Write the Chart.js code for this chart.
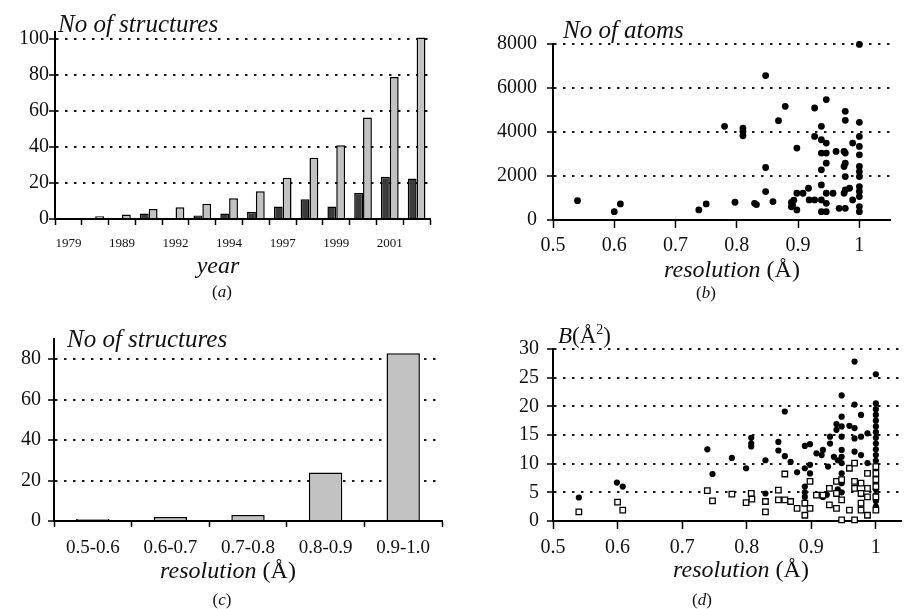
<!DOCTYPE html>
<html>
<head>
<meta charset="utf-8">
<script src="https://cdn.jsdelivr.net/npm/chart.js@4.4.0/dist/chart.umd.min.js"></script>
<style>
  body { margin: 0; background: #fff; }
  #wrap { position: relative; width: 907px; height: 609px; overflow: hidden; font-family: "Liberation Serif", "DejaVu Serif", serif; color: #111; }
  canvas { position: absolute; }
  .t { position: absolute; line-height: 1; white-space: nowrap; }
  .c { transform: translateX(-50%); }
  i { font-style: italic; }
</style>
</head>
<body>
<div id="wrap">
  <canvas id="ca" width="450" height="260" style="left:0;top:0"></canvas>
  <canvas id="cb" width="457" height="260" style="left:450px;top:0"></canvas>
  <canvas id="cc" width="450" height="260" style="left:0;top:300px"></canvas>
  <canvas id="cd" width="457" height="260" style="left:450px;top:300px"></canvas>

  <div class="t" style="left:58px;top:11px;font-size:25px"><i>No of structures</i></div>
  <div class="t c" style="left:218px;top:253px;font-size:24px"><i>year</i></div>
  <div class="t c" style="left:222px;top:283px;font-size:17px">(<i>a</i>)</div>

  <div class="t" style="left:563px;top:17px;font-size:25px"><i>No of atoms</i></div>
  <div class="t c" style="left:732px;top:257px;font-size:24px"><i>resolution</i> (Å)</div>
  <div class="t c" style="left:706px;top:284px;font-size:17px">(<i>b</i>)</div>

  <div class="t" style="left:67px;top:326px;font-size:25px"><i>No of structures</i></div>
  <div class="t c" style="left:228px;top:558px;font-size:24px"><i>resolution</i> (Å)</div>
  <div class="t c" style="left:222px;top:591px;font-size:17px">(<i>c</i>)</div>

  <div class="t" style="left:558px;top:323px;font-size:23px"><i>B</i>(Å<sup style="font-size:14px">2</sup>)</div>
  <div class="t c" style="left:741px;top:557px;font-size:24px"><i>resolution</i> (Å)</div>
  <div class="t c" style="left:702px;top:591px;font-size:17px">(<i>d</i>)</div>
</div>
<script>
// (a) structures per year
const yearLabels = ['1979','1985','1989','1990','1992','1993','1994','1996','1997','1998','1999','2000','2001','2002'];
const yearDark = [0.6, 0.5, 0.5, 3, 0.5, 2, 3, 4, 7, 11, 7, 14.5, 23.5, 22.5];
const yearLight = [0.6, 1.5, 2.5, 5.5, 6.5, 8.5, 11.5, 15.5, 23, 34, 41, 56.5, 79, 101];
const yearTicks = [0, 20, 40, 60, 80, 100];

// (b) number of atoms vs resolution
const atomRes = [0.54, 0.60, 0.61, 0.738, 0.75, 0.78, 0.797, 0.81, 0.81, 0.81, 0.829, 0.832,
  0.847, 0.847, 0.847, 0.859, 0.868, 0.879, 0.889, 0.889, 0.891, 0.893, 0.898, 0.898, 0.898,
  0.908, 0.917, 0.918, 0.927, 0.927, 0.927, 0.938, 0.938, 0.938, 0.938, 0.938, 0.938, 0.938,
  0.946, 0.946, 0.946, 0.946, 0.946, 0.946, 0.946, 0.957, 0.962, 0.967, 0.975, 0.975, 0.975,
  0.977, 0.977, 0.977, 0.977, 0.977, 0.977, 0.977, 0.984, 0.989, 0.989,
  1, 1, 1, 1, 1, 1, 1, 1, 1, 1, 1, 1, 1];
const atomCount = [880, 380, 730, 456, 730, 4256, 806, 4180, 4030, 3830, 760, 700,
  6566, 2386, 1292, 836, 4514, 5168, 600, 800, 684, 900, 3268, 1216, 456,
  1216, 1444, 912, 5092, 3800, 912, 4256, 3648, 3040, 2280, 1596, 912, 380,
  5472, 3496, 3040, 2584, 1216, 760, 380, 1216, 3116, 532, 3116, 2432, 1216,
  4940, 4530, 3040, 2584, 1976, 1368, 532, 1444, 3496, 912,
  7980, 4438, 3800, 3344, 2964, 2432, 1976, 1520, 1064, 608, 380, 2200, 1300];
const atomTicks = [0, 2000, 4000, 6000, 8000];

// (c) structures per resolution bin
const binLabels = ['0.5-0.6', '0.6-0.7', '0.7-0.8', '0.8-0.9', '0.9-1.0'];
const binCounts = [1, 2, 3, 24, 83];
const binTicks = [0, 20, 40, 60, 80];

// (d) B factors vs resolution
const filledRes = [0.540, 0.599, 0.608, 0.739, 0.747, 0.777, 0.799, 0.807, 0.807, 0.807, 0.829, 0.829,
  0.849, 0.849, 0.859, 0.859, 0.868, 0.878, 0.890, 0.890, 0.890, 0.890, 0.890, 0.898, 0.898, 0.898,
  0.908, 0.916, 0.918, 0.918, 0.924, 0.926, 0.929, 0.929, 0.935, 0.939, 0.939, 0.941, 0.941,
  0.947, 0.947, 0.947, 0.947, 0.947, 0.947, 0.947, 0.947, 0.947, 0.947, 0.959,
  0.967, 0.967, 0.967, 0.967, 0.967, 0.967, 0.977, 0.977, 0.977, 0.987, 0.987,
  1, 1, 1, 1, 1, 1, 1, 1, 1, 1, 1, 1, 1, 1, 1, 1, 1, 1, 1, 1];
const filledB = [4.1, 6.7, 6.0, 12.5, 8.2, 11.0, 9.2, 14.5, 13.5, 13.0, 10.6, 4.8,
  13.8, 12.3, 19.1, 11.3, 10.3, 8.5, 13.1, 9.2, 6.0, 5.0, 4.2, 13.4, 9.8, 8.3,
  11.8, 11.5, 12.4, 4.2, 4.6, 9.5, 13.5, 14.7, 11.2, 16.9, 15.9, 10.6, 5.5,
  21.9, 18.2, 16.5, 14.7, 12.4, 11.2, 10.1, 8.3, 6.6, 5.0, 16.6,
  27.8, 20.3, 16.2, 14.4, 12.1, 10.1, 18.5, 14.7, 11.5, 15.3, 10.1,
  25.6, 20.5, 19.5, 18.5, 17.5, 16.5, 15.5, 14.5, 13.5, 12.5, 11.5, 10.5, 9.5, 8.5, 7.5, 6.5, 5.5, 4.5, 3.5, 2.5];
const openRes = [0.540, 0.600, 0.608, 0.739, 0.747, 0.777, 0.799, 0.807, 0.808, 0.829, 0.829,
  0.849, 0.849, 0.859, 0.859, 0.868, 0.878, 0.890, 0.890, 0.898, 0.898, 0.908, 0.918,
  0.928, 0.928, 0.939, 0.939, 0.939, 0.947, 0.947, 0.947, 0.959, 0.959,
  0.967, 0.967, 0.967, 0.967, 0.977, 0.977, 0.977, 0.977, 0.987, 0.987, 0.987, 0.987,
  1, 1, 1, 1, 1, 1];
const openB = [1.6, 3.3, 1.9, 5.3, 3.5, 4.7, 3.2, 4.8, 3.8, 3.4, 1.6,
  5.4, 3.7, 8.2, 3.7, 3.4, 2.2, 3.1, 1.0, 6.9, 2.2, 4.5, 4.5,
  5.7, 2.8, 6.9, 4.8, 2.2, 7.2, 3.7, 0.2, 9.2, 1.9,
  10.1, 6.9, 5.7, 0.2, 6.6, 4.8, 3.1, 1.9, 8.3, 5.7, 4.2, 1.0,
  9.5, 8.3, 7.2, 6.0, 4.2, 1.9];
const bTicks = [0, 5, 10, 15, 20, 25, 30];
const resTicks = [0.5, 0.6, 0.7, 0.8, 0.9, 1.0];

Chart.defaults.font.family = '"Liberation Serif", "DejaVu Serif", serif';
Chart.defaults.color = '#111';
Chart.defaults.animation = false;

const pts = (xs, ys) => xs.map((x, i) => ({ x: x, y: ys[i] }));
const fixTicks = arr => s => { s.ticks = arr.map(v => ({ value: v })); };

// dotted horizontal grid, none at zero (the axis line sits there)
function valueAxis(min, max, ticks, size, width, pad) {
  return {
    min: min, max: max,
    afterBuildTicks: fixTicks(ticks),
    afterFit: s => { s.width = width; },
    grid: {
      color: c => (c.tick && c.tick.value === 0) ? 'rgba(0,0,0,0)' : '#1a1a1a',
      lineWidth: 2, tickColor: '#000', tickWidth: 1.5, tickLength: 6
    },
    border: { color: '#000', width: 2, dash: [2.5, 6.5] },
    ticks: { font: { size: size }, padding: pad, color: '#111', callback: v => String(v) }
  };
}

function catAxis(height, size, pad, labels, every) {
  return {
    afterFit: s => { s.height = height; },
    grid: { offset: true, drawOnChartArea: false, tickColor: '#000', tickWidth: 1.5, tickLength: 6 },
    border: { color: '#000', width: 2 },
    ticks: {
      font: { size: size }, padding: pad, autoSkip: false, maxRotation: 0, color: '#111',
      callback: (v, i) => i % every === 0 ? labels[i] : ''
    }
  };
}

function resAxis(max, height, pad) {
  return {
    type: 'linear', min: 0.5, max: max,
    afterBuildTicks: fixTicks(resTicks),
    afterFit: s => { s.height = height; },
    grid: { drawOnChartArea: false, tickColor: '#000', tickWidth: 1.5, tickLength: 8 },
    border: { color: '#000', width: 2 },
    ticks: { font: { size: 20 }, padding: pad, color: '#111', callback: v => String(+v.toFixed(1)) }
  };
}

const noPlugins = { legend: { display: false }, tooltip: { enabled: false } };

// (a)
new Chart(document.getElementById('ca'), {
  type: 'bar',
  data: {
    labels: yearLabels,
    datasets: [
      { data: yearDark, backgroundColor: '#3b3b3b', borderColor: '#000', borderWidth: 1.5, categoryPercentage: 0.66, barPercentage: 1 },
      { data: yearLight, backgroundColor: '#c2c2c2', borderColor: '#000', borderWidth: 1.5, categoryPercentage: 0.66, barPercentage: 1 }
    ]
  },
  options: {
    responsive: false, devicePixelRatio: 1,
    layout: { padding: { top: 32, right: 20, left: 0, bottom: 0 } },
    plugins: noPlugins,
    scales: {
      x: catAxis(41, 13, 11, yearLabels, 2),
      y: valueAxis(0, 104, yearTicks, 20, 55, 0)
    }
  }
});

// (b)
new Chart(document.getElementById('cb'), {
  type: 'scatter',
  data: {
    datasets: [{ data: pts(atomRes, atomCount), backgroundColor: '#000', borderColor: '#000', pointRadius: 3.4, borderWidth: 0, clip: false }]
  },
  options: {
    responsive: false, devicePixelRatio: 1,
    layout: { padding: { top: 44, right: 17, left: 0, bottom: 0 } },
    plugins: noPlugins,
    scales: {
      x: resAxis(1.05, 40, 6),
      y: valueAxis(0, 8000, atomTicks, 20, 103, 10)
    }
  }
});

// (c)
new Chart(document.getElementById('cc'), {
  type: 'bar',
  data: {
    labels: binLabels,
    datasets: [{ data: binCounts, backgroundColor: '#c2c2c2', borderColor: '#000', borderWidth: 1.5, categoryPercentage: 1, barPercentage: 0.43 }]
  },
  options: {
    responsive: false, devicePixelRatio: 1,
    layout: { padding: { top: 39, right: 8, left: 0, bottom: 0 } },
    plugins: noPlugins,
    scales: {
      x: catAxis(39, 19, 10, binLabels, 1),
      y: valueAxis(0, 90, binTicks, 20, 54, 7)
    }
  }
});

// (d)
new Chart(document.getElementById('cd'), {
  type: 'scatter',
  data: {
    datasets: [
      { data: pts(openRes, openB), pointStyle: 'rect', backgroundColor: '#fff', borderColor: '#000', borderWidth: 1.3, pointRadius: 3.9, clip: false },
      { data: pts(filledRes, filledB), backgroundColor: '#000', borderColor: '#000', borderWidth: 0, pointRadius: 3.1, clip: false }
    ]
  },
  options: {
    responsive: false, devicePixelRatio: 1,
    layout: { padding: { top: 49, right: 0, left: 0, bottom: 0 } },
    plugins: noPlugins,
    scales: {
      x: resAxis(1.04, 39, 7),
      y: valueAxis(0, 30, bTicks, 20, 103, 8)
    }
  }
});
</script>
</body>
</html>
